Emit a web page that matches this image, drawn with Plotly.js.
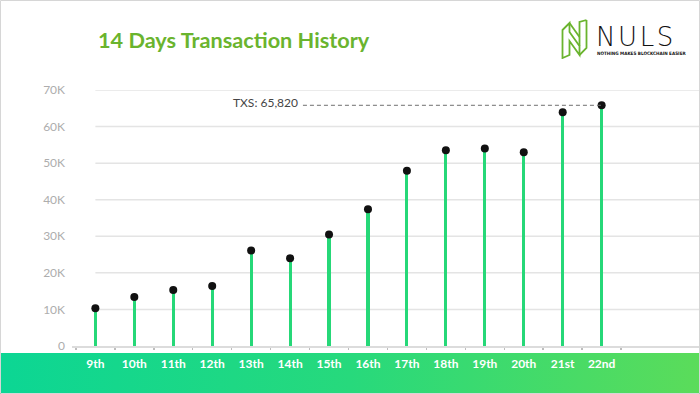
<!DOCTYPE html>
<html>
<head>
<meta charset="utf-8">
<script src="https://cdn.plot.ly/plotly-3.0.1.min.js"></script>
<style>
  html, body { margin: 0; padding: 0; background: #ffffff; }
  #chart { width: 700px; height: 394px; }
</style>
</head>
<body>
<div id="chart"></div>
<script>
// ---- data ----
const days = ["9th","10th","11th","12th","13th","14th","15th","16th","17th","18th","19th","20th","21st","22nd"];
const transactions = [10350, 13400, 15300, 16400, 26100, 24000, 30500, 37400, 47900, 53500, 54000, 53000, 63900, 65820];
const yTicks = [0, 10000, 20000, 30000, 40000, 50000, 60000, 70000];
const yTickLabels = ["0", "10K", "20K", "30K", "40K", "50K", "60K", "70K"];
const chartTitle = "14 Days Transaction History";
const peakLabel = "TXS: 65,820";

// ---- layout helpers ----
const W = 700, H = 394;
const M = { l: 72, r: 1, t: 90, b: 48 };
const PW = W - M.l - M.r, PH = H - M.t - M.b;
const px2x = px => (px - M.l) / PW;
const px2y = py => 1 - (py - M.t) / PH;
const xRange = [-0.6, 15.5];

const stripSvg = "<svg xmlns='http://www.w3.org/2000/svg' width='700' height='41' viewBox='0 0 700 41' preserveAspectRatio='none'>" +
  "<defs><linearGradient id='g' x1='0' x2='1' y1='0' y2='0'>" +
  "<stop offset='0' stop-color='#0cd694'/><stop offset='0.5' stop-color='#27d97c'/><stop offset='1' stop-color='#5bdc5a'/>" +
  "</linearGradient></defs><rect width='700' height='41' fill='url(#g)'/>" +
  "<rect y='40' width='700' height='1' fill='#2e9a48'/></svg>";

const iconSvg = "<svg xmlns='http://www.w3.org/2000/svg' width='27' height='40' viewBox='0 0 27 40'>" +
  "<g fill='none' stroke='#6ab42e' stroke-width='1.8' stroke-linejoin='miter'>" +
  "<path d='M1.5,11 L8.5,4 L8.5,13 L18.5,27 L18.5,36 L8.5,22 L8.5,36 L1.5,39 Z'/>" +
  "<path d='M25.5,1 L25.5,29 L18.5,36 M18.5,27 L18.5,3 L25.5,1'/>" +
  "<path d='M8.5,4 L18.5,18'/>" +
  "</g></svg>";
const uri = s => "data:image/svg+xml;charset=utf-8," + encodeURIComponent(s);

const peakIdx = transactions.indexOf(Math.max(...transactions));
const peakVal = transactions[peakIdx];

const gridShapes = yTicks.filter(v => v > 0).map(v => ({
  type: "line", xref: "x", yref: "y", layer: "below",
  x0: 0, x1: xRange[1], y0: v, y1: v,
  line: { color: "#e4e4e4", width: 1.5 }
}));

const traces = [
  {
    type: "bar", x: days, y: transactions, width: 0.08,
    marker: { color: "#26d878", line: { width: 0 } },
    hoverinfo: "skip"
  },
  {
    type: "scatter", mode: "markers", x: days, y: transactions,
    marker: { color: "#111111", size: 8 },
    cliponaxis: false, hoverinfo: "skip"
  }
];

const layout = {
  width: W, height: H,
  margin: M,
  paper_bgcolor: "#ffffff", plot_bgcolor: "rgba(0,0,0,0)",
  showlegend: false, hovermode: false, bargap: 0,
  font: { family: "Lato, 'Open Sans', sans-serif" },
  xaxis: {
    type: "category", categoryorder: "array", categoryarray: days,
    range: xRange, fixedrange: true,
    showgrid: false, zeroline: false,
    showline: true, linecolor: "#dcdcdc", linewidth: 1.5,
    tickson: "boundaries", ticks: "outside", ticklen: 2, tickwidth: 1.5, tickcolor: "#bdbdbd",
    ticklabelstandoff: 6,
    tickfont: { family: "Lato, sans-serif", size: 12, color: "#ffffff", weight: "bold" }
  },
  yaxis: {
    range: [0, 70000], fixedrange: true,
    tickmode: "array", tickvals: yTicks, ticktext: yTickLabels,
    showgrid: false, zeroline: false, showline: false,
    ticklabelstandoff: 6,
    tickfont: { family: "Lato, sans-serif", size: 12, color: "#adadad" }
  },
  images: [
    { source: uri(stripSvg), xref: "paper", yref: "paper",
      x: px2x(0), y: px2y(353), sizex: W / PW, sizey: 41 / PH,
      xanchor: "left", yanchor: "top", sizing: "stretch", layer: "below" },
    { source: uri(iconSvg), xref: "paper", yref: "paper",
      x: px2x(561), y: px2y(19), sizex: 27 / PW, sizey: 40 / PH,
      xanchor: "left", yanchor: "top", sizing: "stretch", layer: "above" }
  ],
  shapes: gridShapes.concat([
    { type: "line", xref: "x", yref: "y", x0: 5.33, x1: peakIdx, y0: peakVal, y1: peakVal,
      line: { color: "#6f6f6f", width: 1, dash: "4px,3px" } },
    { type: "rect", xref: "paper", yref: "paper",
      x0: px2x(0.5), x1: px2x(699.5), y0: px2y(393.5), y1: px2y(0.5),
      line: { color: "#d6d6d6", width: 1 }, fillcolor: "rgba(0,0,0,0)" }
  ]),
  annotations: [
    { text: chartTitle, xref: "paper", yref: "paper", x: px2x(96), y: px2y(40),
      xanchor: "left", yanchor: "middle", showarrow: false,
      font: { family: "Lato, sans-serif", size: 21.7, color: "#6ab42e", weight: "bold" } },
    { text: peakLabel, xref: "paper", yref: "y", x: px2x(300), y: peakVal,
      xanchor: "right", yanchor: "middle", yshift: 3, showarrow: false,
      font: { family: "Lato, sans-serif", size: 12, color: "#454545" } },
    { text: "N\u200AU\u200AL\u200AS", xref: "paper", yref: "paper", x: px2x(594), y: px2y(37),
      xanchor: "left", yanchor: "middle", showarrow: false,
      font: { family: "'DejaVu Sans', sans-serif", size: 26, color: "#111111", weight: 200 } },
    { text: "NOTHING MAKES BLOCKCHAIN EASIER", xref: "paper", yref: "paper", x: px2x(595), y: px2y(53.5),
      xanchor: "left", yanchor: "middle", showarrow: false,
      font: { family: "'Liberation Sans Narrow', 'DejaVu Sans Condensed', sans-serif", size: 4.6, color: "#111111", weight: "bold" } }
  ]
};

Plotly.newPlot("chart", traces, layout, { displayModeBar: false, staticPlot: true });
</script>
</body>
</html>
